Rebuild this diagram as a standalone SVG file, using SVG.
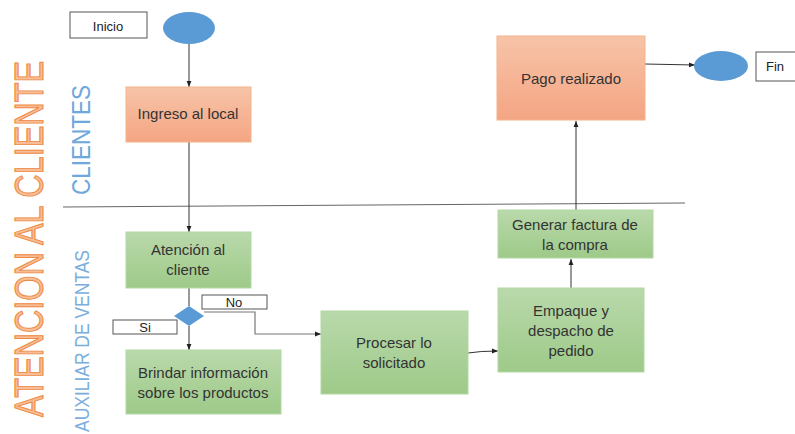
<svg xmlns="http://www.w3.org/2000/svg" width="795" height="434" viewBox="0 0 795 434">
<defs>
<linearGradient id="gO" x1="0" y1="0" x2="0" y2="1"><stop offset="0" stop-color="#F7C4A8"/><stop offset="1" stop-color="#F4A583"/></linearGradient>
<linearGradient id="gG" x1="0" y1="0" x2="0" y2="1"><stop offset="0" stop-color="#B9D9AB"/><stop offset="1" stop-color="#9ECA89"/></linearGradient>
<marker id="ah" viewBox="0 0 10 10" refX="10" refY="5" markerWidth="6" markerHeight="6" orient="auto" markerUnits="userSpaceOnUse"><path d="M0,1 L10,5 L0,9 Z" fill="#222"/></marker>
<style>
.orange{fill:url(#gO);stroke:#F4B48A;stroke-width:1}
.green{fill:url(#gG);stroke:#B4D7A3;stroke-width:1}
.lbl{fill:#fff;stroke:#555;stroke-width:1}
.t{font-family:"Liberation Sans",Arial,sans-serif;font-size:15px;fill:#333;text-anchor:middle}
.ts{font-family:"Liberation Sans",Arial,sans-serif;font-size:13px;fill:#222;text-anchor:middle}
.c{stroke:#333;stroke-width:1;fill:none}
.oval{fill:#5B9BD5}
</style>
</defs>
<rect width="795" height="434" fill="#fff"/>
<g id="lanes">
<text transform="translate(43,417) rotate(-90)" textLength="356" lengthAdjust="spacingAndGlyphs" style="font-family:'Liberation Sans',Arial,sans-serif;font-size:40px;fill:#F8BD94;stroke:#EE8A45;stroke-width:1.1">ATENCION AL CLIENTE</text>
<text transform="translate(90,195) rotate(-90)" textLength="110" lengthAdjust="spacingAndGlyphs" style="font-family:'Liberation Sans',Arial,sans-serif;font-size:25px;fill:#6FA8DC">CLIENTES</text>
<text transform="translate(89,432) rotate(-90)" textLength="182" lengthAdjust="spacingAndGlyphs" style="font-family:'Liberation Sans',Arial,sans-serif;font-size:21px;fill:#7AAEDD">AUXILIAR DE VENTAS</text>
<line x1="63" y1="207" x2="685" y2="203" stroke="#666" stroke-width="1"/>
</g>
<g id="connectors">
<line class="c" x1="189" y1="44" x2="189" y2="87" marker-end="url(#ah)"/>
<line class="c" x1="189" y1="142" x2="189" y2="232" marker-end="url(#ah)"/>
<line class="c" x1="189" y1="288" x2="189" y2="306"/>
<line class="c" x1="189" y1="326" x2="189" y2="350" marker-end="url(#ah)"/>
<polyline points="204,312 255,312 255,334 321,334" fill="none" stroke="#777" stroke-width="1.2" marker-end="url(#ah)"/>
<path class="c" d="M468,353 Q480,351 498,351" marker-end="url(#ah)"/>
<line class="c" x1="571" y1="288" x2="571" y2="259" marker-end="url(#ah)"/>
<line class="c" x1="576" y1="210" x2="576" y2="121" marker-end="url(#ah)"/>
<line class="c" x1="645" y1="64" x2="695" y2="65" marker-end="url(#ah)"/>
</g>
<g id="inicio-label"><rect class="lbl" x="70" y="12" width="77" height="26"/><text class="ts" x="108" y="31">Inicio</text></g>
<g id="inicio"><ellipse class="oval" cx="189" cy="28" rx="26" ry="16"/></g>
<g id="ingreso"><rect class="orange" x="126" y="87" width="125" height="55"/><text class="t" x="188" y="119">Ingreso al local</text></g>
<g id="atencion"><rect class="green" x="126" y="232" width="125" height="56"/><text class="t" x="188" y="255">Atención al</text><text class="t" x="188" y="275">cliente</text></g>
<g id="decision"><polygon points="189,306 204,316 189,326 174,316" fill="#5B9BD5"/></g>
<g id="si-label"><rect class="lbl" x="113" y="320" width="64" height="14"/><text class="ts" x="145" y="332">Si</text></g>
<g id="no-label"><rect class="lbl" x="202" y="295" width="65" height="14"/><text class="ts" x="234" y="307">No</text></g>
<g id="brindar"><rect class="green" x="126" y="350" width="155" height="64"/><text class="t" x="203" y="378">Brindar información</text><text class="t" x="203" y="398">sobre los productos</text></g>
<g id="procesar"><rect class="green" x="321" y="311" width="147" height="83"/><text class="t" x="394" y="348">Procesar lo</text><text class="t" x="394" y="368">solicitado</text></g>
<g id="empaque"><rect class="green" x="498" y="288" width="146" height="84"/><text class="t" x="571" y="316">Empaque y</text><text class="t" x="571" y="336">despacho de</text><text class="t" x="571" y="356">pedido</text></g>
<g id="generar"><rect class="green" x="498" y="210" width="155" height="48"/><text class="t" x="575" y="230">Generar factura de</text><text class="t" x="575" y="250">la compra</text></g>
<g id="pago"><rect class="orange" x="497" y="36" width="148" height="84"/><text class="t" x="571" y="84">Pago realizado</text></g>
<g id="fin"><ellipse class="oval" cx="721" cy="66" rx="27" ry="15"/></g>
<g id="fin-label"><rect class="lbl" x="756" y="52" width="45" height="29"/><text class="ts" x="775" y="71">Fin</text></g>
</svg>
